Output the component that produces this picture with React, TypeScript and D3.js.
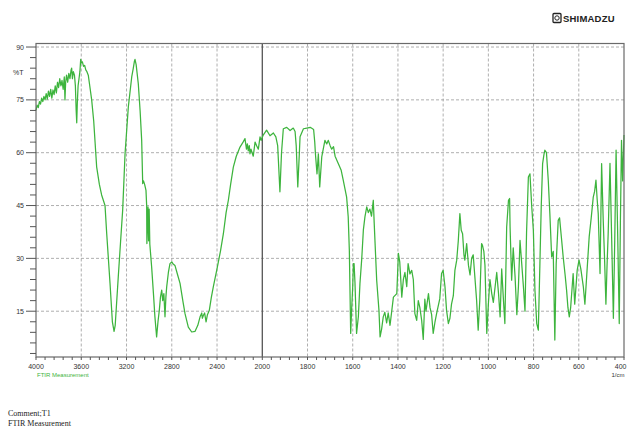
import React from "react";
import * as d3 from "d3";

const wavenumbers: number[] = [
  4000, 3990, 3980, 3970, 3960, 3950, 3940, 3930, 3920, 3910, 3900, 3890, 3880, 3870, 3860, 3850, 3840, 3830, 3820, 3810,
  3800, 3790, 3780, 3770, 3760, 3750, 3744, 3738, 3730, 3720, 3710, 3700, 3690, 3685, 3678, 3670, 3660, 3652, 3645, 3640,
  3635, 3628, 3620, 3612, 3605, 3598, 3590, 3580, 3570, 3560, 3550, 3538, 3525, 3508, 3490, 3464, 3440, 3420, 3390, 3375,
  3346, 3325, 3310, 3300, 3273, 3250, 3234, 3213, 3184, 3170, 3154, 3140, 3130, 3125, 3115, 3096, 3080, 3066, 3057, 3050,
  3040, 3028, 3022, 3020, 3015, 3010, 3005, 3000, 2994, 2978, 2960, 2949, 2934, 2922, 2910, 2900, 2889, 2880, 2870, 2860,
  2852, 2845, 2830, 2816, 2800, 2790, 2772, 2750, 2727, 2700, 2683, 2654, 2624, 2594, 2570, 2550, 2535, 2530, 2521, 2510,
  2497, 2485, 2468, 2450, 2433, 2403, 2370, 2344, 2320, 2300, 2280, 2256, 2230, 2197, 2170, 2153, 2140, 2132, 2124, 2115,
  2109, 2100, 2090, 2080, 2064, 2050, 2035, 2020, 2010, 1996, 1981, 1966, 1951, 1940, 1932, 1922, 1915, 1907, 1892, 1877,
  1863, 1855, 1850, 1843, 1836, 1833, 1818, 1803, 1788, 1773, 1768, 1765, 1758, 1752, 1746, 1737, 1723, 1715, 1708, 1700,
  1693, 1685, 1678, 1664, 1651, 1642, 1627, 1620, 1615, 1609, 1605, 1600, 1597, 1594, 1590, 1583, 1575, 1568, 1560, 1553,
  1546, 1538, 1531, 1524, 1517, 1509, 1505, 1494, 1484, 1479, 1472, 1465, 1458, 1450, 1443, 1435, 1420, 1405, 1398, 1392,
  1383, 1376, 1369, 1361, 1355, 1347, 1339, 1332, 1325, 1317, 1310, 1303, 1295, 1288, 1281, 1276, 1265, 1258, 1251, 1244,
  1236, 1229, 1215, 1207, 1200, 1192, 1185, 1177, 1170, 1163, 1155, 1148, 1140, 1133, 1126, 1120, 1114, 1108, 1104, 1096,
  1088, 1081, 1074, 1067, 1060, 1052, 1045, 1038, 1030, 1026, 1020, 1015, 1007, 1000, 993, 985, 978, 970, 963, 955,
  948, 941, 934, 927, 919, 911, 906, 904, 897, 890, 882, 874, 867, 860, 853, 845, 838, 831, 823, 816,
  808, 801, 794, 786, 779, 772, 766, 760, 754, 750, 743, 735, 728, 720, 713, 706, 700, 691, 685, 677,
  669, 660, 654, 648, 642, 636, 625, 618, 607, 599, 591, 580, 573, 565, 554, 545, 536, 530, 524, 519,
  514, 506, 499, 492, 486, 480, 475, 470, 462, 455, 447, 441, 435, 428, 421, 416, 411, 406, 400,
];

const transmittance: number[] = [
  72, 73.5, 72.8, 74.5, 73.8, 75.5, 74.5, 76, 75, 76.8, 75.2, 77.5, 76, 78, 75.5, 77.8, 76.5, 79, 77, 80,
  78.5, 81, 79, 80.5, 78, 81.5, 75, 80, 82, 80, 82.5, 81, 83.5, 84, 81, 83, 82, 79, 72, 68.5,
  74, 79, 81, 83, 86.5, 85.5, 85.8, 84.5, 84.8, 83.5, 83, 82, 79, 75, 69, 56, 51, 48, 45, 37,
  23, 12, 9.3, 11, 24.7, 36, 43.7, 59.7, 73, 77, 81.5, 84, 86, 86.5, 85, 79.6, 72, 63.5, 51.2, 52,
  51, 49.3, 45, 34.2, 40, 44.6, 35, 44, 34, 27.6, 19, 13.4, 7.7, 12, 15.3, 19, 21, 18, 20, 13.4,
  19, 21.9, 26, 28.5, 29, 28.5, 28, 25.5, 22.9, 17.5, 14.3, 10.5, 9.1, 9.3, 11, 13.4, 14.5, 13, 13.8, 14.5,
  12, 14, 15.3, 19, 21.9, 26.6, 32, 37, 43, 46.5, 51, 55.9, 59, 61.6, 63, 64, 61, 62.5, 60.5, 62,
  59.7, 61, 60, 59, 63, 62, 61, 64.5, 63.5, 65, 66.4, 64.8, 65.6, 64.5, 62, 48.9, 60, 66.8, 67.2, 66.3,
  67, 66, 62, 50.3, 60, 64.5, 66.8, 67, 67.2, 66.6, 63, 59.7, 54, 59.7, 50.3, 58.8, 63.5, 62.5, 63.5, 62,
  61, 61.7, 59, 56.9, 55, 52.2, 47.4, 41.8, 32.3, 8.7, 15.3, 22, 28.5, 28.5, 23, 8.7, 13.5, 22.9, 30, 38,
  41.8, 44.6, 43, 44, 42, 46.5, 40, 23.8, 15.3, 7.7, 10, 13.4, 14.7, 11.7, 14.5, 11, 19, 20, 31.4, 29,
  19, 24, 26, 22, 28.5, 25.6, 26.6, 24, 14.3, 12.4, 18, 16, 12.4, 7, 18.4, 15, 20, 16, 14, 8.7,
  12, 14.3, 18.5, 25.7, 26.6, 22, 15.3, 11.5, 13, 17, 19.4, 26.6, 29.5, 35, 42.7, 38, 37, 31, 29.5, 34.2,
  28, 25.3, 30, 31, 25, 18.1, 9.6, 18, 34.2, 33.7, 32, 28, 8.7, 17, 24, 20, 17.5, 22, 26, 20,
  13.4, 27, 19, 11.5, 38.9, 46.5, 47, 39, 23.8, 33, 25, 14, 22, 35.1, 29, 22, 15, 37.5, 53.1, 54,
  44.6, 38, 21, 11.5, 9.6, 28.5, 45, 56.9, 59.5, 60.7, 60, 52.2, 42.7, 30.4, 32, 6.8, 28.5, 40.8, 41.5, 36,
  30.4, 25, 21, 16, 13.4, 16, 25.7, 17, 26.7, 29.5, 27, 22, 17, 25, 36.1, 41.5, 47.4, 49, 52.2, 47,
  42.7, 25.7, 56.9, 41, 30, 17, 28, 37, 57, 37, 13, 35, 60.7, 37, 11.5, 40, 63.5, 52, 65,
];

const xTickLabels: number[] = [4000, 3600, 3200, 2800, 2400, 2000, 1800, 1600, 1400, 1200, 1000, 800, 600, 400];
const yTickLabels: number[] = [15, 30, 45, 60, 75, 90];

export default function App() {
  const left = 36, right = 624, top = 43.5, bottom = 357;
  const x = d3.scaleLinear().domain([4000, 2000, 400]).range([left, 262.3, right]);
  const y = d3.scaleLinear().domain([2, 91]).range([bottom, top]);

  const pts: [number, number][] = wavenumbers.map((w, i) => [w, transmittance[i]]);
  const line = d3.line<[number, number]>().x(d => x(d[0])).y(d => y(d[1]));

  const minorX: number[] = [];
  for (let w = 4000; w > 2000; w -= 80) minorX.push(w);
  for (let w = 2000; w >= 400; w -= 40) minorX.push(w);
  const minorY: number[] = [];
  for (let v = 3; v <= 90; v += 3) minorY.push(v);

  const labelFont = "'Liberation Sans', Arial, sans-serif";
  const gridColor = "#9a9a9a";

  return (
    <svg width={627} height={429} style={{ position: "absolute", left: 0, top: 0, background: "#fff" }}>
      <g>
        <rect x={553} y={13.5} width={8} height={9} fill="none" stroke="#222" strokeWidth={1.3} rx={1} />
        <circle cx={557} cy={18} r={2.2} fill="none" stroke="#222" strokeWidth={1} />
        <text x={563} y={22} fontFamily={labelFont} fontWeight="bold" fontSize={9.5} fill="#222" letterSpacing={0.2}>SHIMADZU</text>
      </g>

      {yTickLabels.map(v => (
        <line key={"hg" + v} x1={left} x2={right} y1={y(v)} y2={y(v)} stroke={gridColor} strokeWidth={0.8} strokeDasharray="3,2" />
      ))}
      {xTickLabels.filter(w => w !== 4000 && w !== 400 && w !== 2000).map(w => (
        <line key={"vg" + w} x1={x(w)} x2={x(w)} y1={top} y2={bottom} stroke={gridColor} strokeWidth={0.8} strokeDasharray="3,2" />
      ))}
      <line x1={x(2000)} x2={x(2000)} y1={top} y2={bottom} stroke="#555" strokeWidth={1.3} />

      <path d={line(pts) || ""} fill="none" stroke="#3db43d" strokeWidth={1.25} strokeLinejoin="round" />

      <rect x={left} y={top} width={right - left} height={bottom - top} fill="none" stroke="#6a6a6a" strokeWidth={1.2} />

      {minorY.map(v => (
        <line key={"yt" + v} x1={v % 15 === 0 ? left - 10 : left - 6} x2={left} y1={y(v)} y2={y(v)} stroke="#555" strokeWidth={1} />
      ))}
      {yTickLabels.map(v => (
        <text key={"yl" + v} x={24} y={y(v) + 2.5} textAnchor="end" fontFamily={labelFont} fontSize={7} fill="#333">{v}</text>
      ))}
      <text x={13} y={75} fontFamily={labelFont} fontSize={7} fill="#333">%T</text>

      {minorX.map(w => (
        <line key={"xt" + w} x1={x(w)} x2={x(w)} y1={bottom} y2={bottom + 3} stroke="#555" strokeWidth={1} />
      ))}
      {xTickLabels.map(w => (
        <text key={"xl" + w} x={w === 400 ? 626.5 : x(w)} y={369} textAnchor={w === 400 ? "end" : "middle"} fontFamily={labelFont} fontSize={7} fill="#333">{w}</text>
      ))}
      <text x={618} y={376.5} textAnchor="middle" fontFamily={labelFont} fontSize={6} fill="#333">1/cm</text>
      <text x={37} y={376.5} fontFamily={labelFont} fontSize={6} fill="#3db43d">FTIR Measurement</text>

      <text x={8} y={416} fontFamily="'Liberation Serif', 'Times New Roman', serif" fontSize={8} fill="#222">Comment;T1</text>
      <text x={8} y={426} fontFamily="'Liberation Serif', 'Times New Roman', serif" fontSize={8} fill="#222">FTIR Measurement</text>
    </svg>
  );
}
